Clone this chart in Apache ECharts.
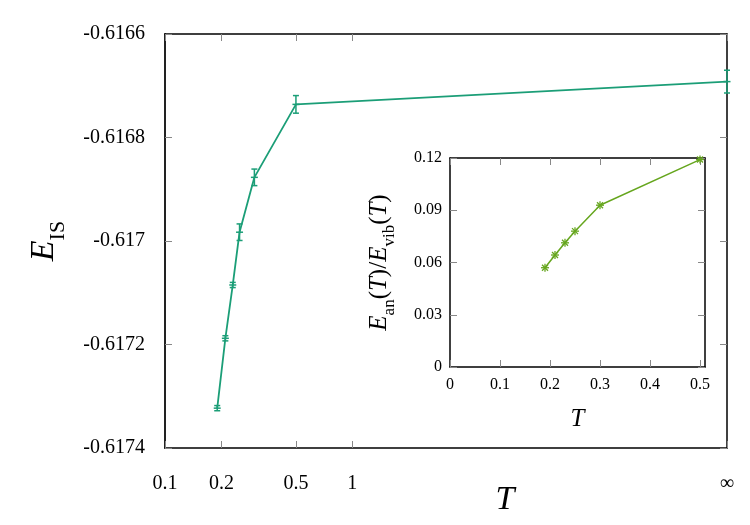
<!DOCTYPE html>
<html>
<head>
<meta charset="utf-8">
<script src="https://cdn.jsdelivr.net/npm/echarts@6/dist/echarts.min.js"></script>
<style>
  html, body { margin: 0; padding: 0; background: #fff; }
  #chart { width: 750px; height: 525px; }
</style>
</head>
<body>
<div id="chart"></div>
<script>
// main panel: inherent-structure energy vs T (100 stands for T = infinity)
var T_MAIN = [0.19, 0.21, 0.23, 0.25, 0.3, 0.5, 100];
var E_IS = [-0.617323, -0.617188, -0.617085, -0.616983, -0.616877, -0.616736, -0.616692];
var E_IS_ERR = [0.000005, 0.000005, 0.000005, 0.000016, 0.000016, 0.000017, 0.000022];
var MAIN_X_TICKS = [0.1, 0.2, 0.5, 1, 100];

// inset: anharmonic / vibrational energy ratio
var T_INSET = [0.19, 0.21, 0.23, 0.25, 0.3, 0.5];
var RATIO = [0.057, 0.0643, 0.0713, 0.078, 0.0929, 0.1191];
var INSET_X_TICKS = [0, 0.1, 0.2, 0.3, 0.4, 0.5];

var MAIN_COLOR = '#1b9e77';
var INSET_COLOR = '#66a61e';
var FONT = 'Liberation Serif';

var chart = echarts.init(document.getElementById('chart'));

var logTicks = MAIN_X_TICKS.map(function (t) { return Math.log10(t); });

function xLabel(v) {
    if (Math.abs(v - 2) < 1e-6) return '∞';
    return String(+Math.pow(10, v).toPrecision(3));
}

function renderErr(params, api) {
    var x = api.value(0), y = api.value(1), e = api.value(2);
    var p = api.coord([x, y]);
    var lo = api.coord([x, y - e]);
    var hi = api.coord([x, y + e]);
    var c = 3, m = 3.5;
    var st = { stroke: MAIN_COLOR, lineWidth: 1.5 };
    return {
        type: 'group',
        children: [
            { type: 'line', shape: { x1: p[0], y1: hi[1], x2: p[0], y2: lo[1] }, style: st },
            { type: 'line', shape: { x1: p[0] - c, y1: hi[1], x2: p[0] + c, y2: hi[1] }, style: st },
            { type: 'line', shape: { x1: p[0] - c, y1: lo[1], x2: p[0] + c, y2: lo[1] }, style: st },
            { type: 'line', shape: { x1: p[0] - m, y1: p[1], x2: p[0] + m, y2: p[1] }, style: st }
        ]
    };
}

function renderStar(params, api) {
    var p = api.coord([api.value(0), api.value(1)]);
    var r = 4, d = 3;
    var st = { stroke: INSET_COLOR, lineWidth: 1.3 };
    return {
        type: 'group',
        children: [
            { type: 'line', shape: { x1: p[0] - r, y1: p[1], x2: p[0] + r, y2: p[1] }, style: st },
            { type: 'line', shape: { x1: p[0], y1: p[1] - r, x2: p[0], y2: p[1] + r }, style: st },
            { type: 'line', shape: { x1: p[0] - d, y1: p[1] - d, x2: p[0] + d, y2: p[1] + d }, style: st },
            { type: 'line', shape: { x1: p[0] - d, y1: p[1] + d, x2: p[0] + d, y2: p[1] - d }, style: st }
        ]
    };
}

var frame = { show: true, onZero: false, lineStyle: { color: '#000', width: 1.5 } };
var tickIn = { show: true, inside: true, length: 7, lineStyle: { color: '#888', width: 1 } };

var mainX = logTicks.map(function (v) { return v; });
var mainData = T_MAIN.map(function (t, i) { return [Math.log10(t), E_IS[i]]; });
var errData = T_MAIN.map(function (t, i) { return [Math.log10(t), E_IS[i], E_IS_ERR[i]]; });
var insetData = T_INSET.map(function (t, i) { return [t, RATIO[i]]; });

var option = {
    backgroundColor: '#fff',
    animation: false,
    grid: [
        { left: 165, top: 34, width: 562, height: 414, show: false, outerBoundsMode: 'none', containLabel: false },
        { left: 450, top: 158, width: 255, height: 209, show: true, backgroundColor: '#fff', borderWidth: 0,
          outerBoundsMode: 'none', containLabel: false }
    ],
    xAxis: [
        {
            gridIndex: 0, type: 'value', min: -1, max: 2, position: 'bottom',
            axisLine: frame,
            axisTick: Object.assign({}, tickIn, { customValues: mainX }),
            axisLabel: {
                customValues: mainX, formatter: xLabel, margin: 26,
                fontFamily: FONT, fontSize: 20, color: '#000'
            },
            splitLine: { show: false },
            name: 'T', nameLocation: 'middle', nameGap: 35, nameMoveOverlap: false,
            nameTextStyle: { fontFamily: FONT, fontStyle: 'italic', fontSize: 34, color: '#000',
                padding: [0, 0, 0, 118] }
        },
        {
            gridIndex: 0, type: 'value', min: -1, max: 2, position: 'top',
            axisLine: frame,
            axisTick: Object.assign({}, tickIn, { customValues: mainX }),
            axisLabel: { show: false },
            splitLine: { show: false }
        },
        {
            gridIndex: 1, type: 'value', min: 0, max: 0.51, position: 'bottom',
            axisLine: frame,
            axisTick: Object.assign({}, tickIn, { customValues: INSET_X_TICKS }),
            axisLabel: {
                customValues: INSET_X_TICKS, margin: 10,
                fontFamily: FONT, fontSize: 16, color: '#000'
            },
            splitLine: { show: false },
            name: 'T', nameLocation: 'middle', nameGap: 40,
            nameTextStyle: { fontFamily: FONT, fontStyle: 'italic', fontSize: 25, color: '#000' }
        },
        {
            gridIndex: 1, type: 'value', min: 0, max: 0.51, position: 'top',
            axisLine: frame,
            axisTick: Object.assign({}, tickIn, { customValues: INSET_X_TICKS }),
            axisLabel: { show: false },
            splitLine: { show: false }
        }
    ],
    yAxis: [
        {
            gridIndex: 0, type: 'value', min: -0.6174, max: -0.6166, interval: 0.0002, position: 'left',
            axisLine: { show: true, onZero: false, lineStyle: { color: '#222', width: 2 } },
            axisTick: tickIn,
            axisLabel: {
                margin: 20, fontFamily: FONT, fontSize: 20, color: '#000',
                formatter: function (v) { return String(+v.toFixed(4)); }
            },
            splitLine: { show: false },
            name: '{e|E}{s|IS}', nameLocation: 'middle', nameGap: 96,
            nameTextStyle: {
                color: '#000',
                rich: {
                    e: { fontFamily: FONT, fontStyle: 'italic', fontSize: 34, padding: [0, 0, 8, 0] },
                    s: { fontFamily: FONT, fontSize: 22, verticalAlign: 'bottom' }
                }
            }
        },
        {
            gridIndex: 0, type: 'value', min: -0.6174, max: -0.6166, interval: 0.0002, position: 'right',
            axisLine: frame, axisTick: tickIn,
            axisLabel: { show: false }, splitLine: { show: false }
        },
        {
            gridIndex: 1, type: 'value', min: 0, max: 0.12, interval: 0.03, position: 'left',
            axisLine: frame, axisTick: tickIn,
            axisLabel: {
                margin: 8, fontFamily: FONT, fontSize: 16, color: '#000',
                formatter: function (v) { return String(+v.toFixed(2)); }
            },
            splitLine: { show: false },
            name: '{e|E}{s|an}{n|(}{t|T}{n|)/}{e|E}{s|vib}{n|(}{t|T}{n|)}',
            nameLocation: 'middle', nameGap: 52,
            nameTextStyle: {
                color: '#000',
                rich: {
                    e: { fontFamily: FONT, fontStyle: 'italic', fontSize: 25, padding: [0, 0, 6, 0] },
                    t: { fontFamily: FONT, fontStyle: 'italic', fontSize: 25, padding: [0, 0, 6, 0] },
                    n: { fontFamily: FONT, fontSize: 25, padding: [0, 0, 6, 0] },
                    s: { fontFamily: FONT, fontSize: 17, verticalAlign: 'bottom' }
                }
            }
        },
        {
            gridIndex: 1, type: 'value', min: 0, max: 0.12, interval: 0.03, position: 'right',
            axisLine: frame, axisTick: tickIn,
            axisLabel: { show: false }, splitLine: { show: false }
        }
    ],
    series: [
        {
            type: 'line', xAxisIndex: 0, yAxisIndex: 0, data: mainData,
            symbol: 'none', lineStyle: { color: MAIN_COLOR, width: 1.8 }, z: 2
        },
        {
            type: 'custom', xAxisIndex: 0, yAxisIndex: 0, data: errData,
            renderItem: renderErr, clip: false, z: 3
        },
        {
            type: 'line', xAxisIndex: 2, yAxisIndex: 2, data: insetData,
            symbol: 'none', lineStyle: { color: INSET_COLOR, width: 1.5 }, z: 5
        },
        {
            type: 'custom', xAxisIndex: 2, yAxisIndex: 2, data: insetData,
            renderItem: renderStar, clip: false, z: 6
        }
    ]
};

chart.setOption(option);
</script>
</body>
</html>
